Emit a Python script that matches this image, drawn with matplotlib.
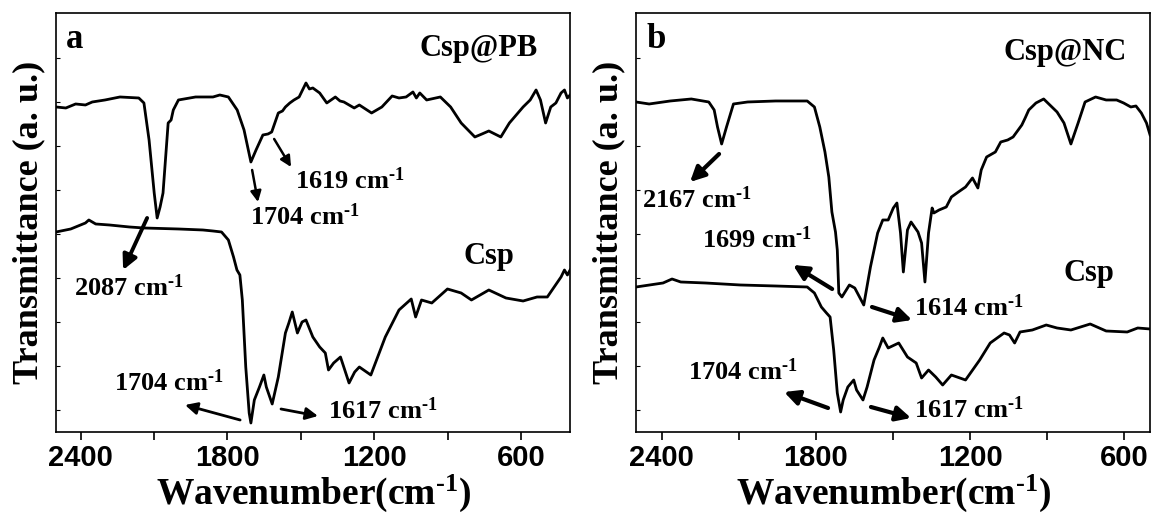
import numpy as np
import matplotlib
matplotlib.use('Agg')
import matplotlib.pyplot as plt
from matplotlib.ticker import MultipleLocator, FixedLocator

plt.rcParams['font.family'] = ['Liberation Serif', 'DejaVu Serif']
plt.rcParams['font.weight'] = 'bold'
plt.rcParams['mathtext.fontset'] = 'custom'
plt.rcParams['mathtext.rm'] = 'Liberation Serif:bold'
plt.rcParams['mathtext.bf'] = 'Liberation Serif:bold'
plt.rcParams['mathtext.default'] = 'bf'

# Panel a: Csp@PB (upper) and Csp (lower)
wn_pb = [2500, 2460, 2420, 2380, 2352, 2300, 2239, 2162, 2141, 2120, 2099, 2087, 2075, 2063, 2042,
         2030, 2021, 2000, 1930, 1859, 1831, 1796, 1760, 1732, 1704, 1683, 1655, 1634, 1619, 1592,
         1575, 1563, 1545, 1528, 1507, 1479, 1465, 1451, 1423, 1394, 1359, 1340, 1324, 1282, 1261,
         1211, 1169, 1127, 1099, 1070, 1042, 1028, 1014, 986, 930, 888, 845, 789, 760, 732, 683,
         648, 592, 563, 539, 521, 500, 479, 458, 437, 423, 411, 400]
t_pb = [325, 324, 328, 327, 330, 332, 335, 334, 329, 292, 239, 214, 225, 239, 309,
        312, 322, 332, 335, 335, 337, 335, 322, 302, 270, 282, 297, 298, 300, 319,
        321, 325, 329, 332, 335, 349, 343, 344, 339, 329, 335, 331, 330, 324, 327,
        319, 325, 336, 334, 335, 340, 334, 339, 332, 335, 325, 309, 295, 298, 301, 295,
        309, 325, 332, 342, 332, 309, 325, 329, 339, 342, 334, 337]

wn_csp_a = [2500, 2440, 2380, 2366, 2338, 2282, 2200, 2141, 2000, 1900, 1859, 1824, 1796, 1775,
            1761, 1749, 1739, 1725, 1711, 1704, 1690, 1669, 1651, 1641, 1617, 1592, 1563, 1549,
            1535, 1514, 1495, 1479, 1451, 1423, 1400, 1387, 1366, 1338, 1303, 1280, 1261, 1214,
            1155, 1099, 1049, 1031, 1007, 965, 901, 845, 803, 732, 662, 592, 535, 493, 465, 437,
            423, 411, 400]
t_csp_a = [200, 203, 209, 212, 208, 207, 205, 204, 203, 202, 201, 200, 192, 175,
           162, 157, 132, 65, 19, 9, 32, 45, 57, 45, 28, 55, 99, 109,
           120, 99, 110, 112, 95, 85, 79, 62, 69, 75, 49, 60, 65, 57,
           95, 122, 133, 115, 132, 129, 143, 139, 132, 142, 134, 131, 135, 135, 145, 155,
           162, 157, 162]

# Panel b: Csp@NC (upper) and Csp (lower)
wn_nc = [2500, 2449, 2367, 2285, 2217, 2196, 2183, 2167, 2148, 2121, 2066, 1957, 1834, 1806, 1785,
         1765, 1750, 1738, 1724, 1717, 1711, 1699, 1670, 1649, 1614, 1588, 1560, 1540, 1519, 1499,
         1485, 1471, 1460, 1444, 1430, 1403, 1389, 1376, 1362, 1348, 1341, 1321, 1293, 1273, 1246,
         1218, 1191, 1170, 1157, 1136, 1102, 1081, 1054, 1033, 999, 986, 972, 944, 914, 890, 862,
         835, 808, 780, 753, 712, 671, 630, 603, 575, 555, 534, 514, 500]
t_nc = [330, 328, 331, 333, 330, 322, 305, 288, 305, 328, 330, 331, 331, 325, 305,
        280, 255, 220, 200, 182, 139, 135, 147, 144, 127, 165, 199, 212, 212, 224,
        229, 199, 160, 202, 210, 200, 189, 150, 199, 224, 219, 222, 225, 235, 240,
        245, 254, 244, 262, 275, 280, 290, 292, 295, 307, 314, 322, 329, 333, 327, 320,
        309, 288, 309, 330, 335, 332, 332, 329, 325, 326, 319, 309, 297]

wn_csp_b = [2500, 2395, 2360, 2326, 2230, 2094, 1957, 1834, 1806, 1779, 1759, 1745, 1731, 1717,
            1704, 1694, 1676, 1663, 1653, 1642, 1617, 1601, 1574, 1553, 1540, 1519, 1478, 1444,
            1410, 1389, 1362, 1334, 1307, 1273, 1218, 1163, 1122, 1068, 1047, 1027, 1006, 958,
            904, 862, 808, 733, 671, 589, 548, 500]
t_csp_b = [145, 149, 153, 150, 149, 147, 146, 145, 139, 125, 119, 115, 82, 39,
           20, 32, 45, 49, 52, 42, 32, 45, 72, 85, 94, 84, 89, 75,
           69, 54, 62, 55, 47, 57, 52, 72, 89, 99, 97, 89, 100, 102,
           107, 104, 102, 108, 101, 100, 104, 103]

major_ticks = [2400, 1800, 1200, 600]
ytick_pos = [22, 66, 110, 154, 198, 242, 286, 330, 374]

fig = plt.figure(figsize=(11.51, 5.13), dpi=100)
ax1 = fig.add_axes([0.0487, 0.1579, 0.4466, 0.8168])
ax2 = fig.add_axes([0.5526, 0.1579, 0.4466, 0.8168])

lab_font = dict(fontsize=19, fontweight='bold')
SUP = '$^{\\text{-1}}$'


def style_axes(ax, xlim):
    ax.set_xlim(xlim)
    ax.set_ylim(0, 419)
    ax.xaxis.set_major_locator(FixedLocator(major_ticks))
    ax.xaxis.set_minor_locator(MultipleLocator(300))
    ax.yaxis.set_major_locator(FixedLocator(ytick_pos))
    ax.set_yticklabels([])
    ax.tick_params(axis='x', which='both', direction='out', length=6, width=1.2, labelsize=21, pad=3)
    ax.tick_params(axis='y', which='both', direction='in', length=3, width=0.8)
    for lab in ax.get_xticklabels():
        lab.set_family(['Liberation Sans Narrow', 'Liberation Sans', 'DejaVu Sans'])
        lab.set_fontweight('bold')
    for sp in ax.spines.values():
        sp.set_linewidth(1.2)
    ax.set_xlabel('Wavenumber(cm' + SUP + ')', fontsize=27, fontweight='bold', labelpad=0)
    ax.set_ylabel('Transmittance (a. u.)', fontsize=26, fontweight='bold', labelpad=4)


def arrow(ax, tail, head, lw, ms):
    ax.annotate('', xy=head, xytext=tail,
                arrowprops=dict(arrowstyle='-|>', color='k', lw=lw, mutation_scale=ms,
                                shrinkA=0, shrinkB=0))


# ---- panel a
ax1.plot(wn_pb, t_pb, color='k', lw=2)
ax1.plot(wn_csp_a, t_csp_a, color='k', lw=2)
style_axes(ax1, (2500, 400))
ax1.text(0.02, 0.975, 'a', transform=ax1.transAxes, fontsize=25, fontweight='bold', va='top')
ax1.text(531, 383, 'Csp@PB', fontsize=22, fontweight='bold', ha='right', va='center')
ax1.text(731, 175, 'Csp', fontsize=22, fontweight='bold', ha='center', va='center')

arrow(ax1, (2128, 214), (2226, 162), 2.8, 22)
ax1.text(2202, 144, '2087 cm' + SUP, ha='center', va='center', **lab_font)
arrow(ax1, (1699, 262), (1675, 230), 1.8, 16)
ax1.text(1707, 215, '1704 cm' + SUP, ha='left', va='center', **lab_font)
arrow(ax1, (1609, 293), (1540, 265), 1.8, 16)
ax1.text(1524, 251, '1619 cm' + SUP, ha='left', va='center', **lab_font)
arrow(ax1, (1748, 12), (1973, 27), 2.0, 18)
ax1.text(2038, 49, '1704 cm' + SUP, ha='center', va='center', **lab_font)
arrow(ax1, (1581, 23), (1430, 16), 2.0, 18)
ax1.text(1389, 21, '1617 cm' + SUP, ha='left', va='center', **lab_font)

# ---- panel b
ax2.plot(wn_nc, t_nc, color='k', lw=2)
ax2.plot(wn_csp_b, t_csp_b, color='k', lw=2)
style_axes(ax2, (2500, 500))
ax2.text(0.02, 0.975, 'b', transform=ax2.transAxes, fontsize=25, fontweight='bold', va='top')
ax2.text(590, 379, 'Csp@NC', fontsize=22, fontweight='bold', ha='right', va='center')
ax2.text(737, 158, 'Csp', fontsize=22, fontweight='bold', ha='center', va='center')

arrow(ax2, (2177, 278), (2290, 250), 3.0, 22)
ax2.text(2477, 232, '2167 cm' + SUP, ha='left', va='center', **lab_font)
arrow(ax2, (1737, 143), (1889, 167), 3.0, 22)
ax2.text(2029, 192, '1699 cm' + SUP, ha='center', va='center', **lab_font)
arrow(ax2, (1582, 125), (1426, 112), 3.0, 22)
ax2.text(1418, 124, '1614 cm' + SUP, ha='left', va='center', **lab_font)
arrow(ax2, (1753, 24), (1924, 40), 3.0, 22)
ax2.text(2084, 60, '1704 cm' + SUP, ha='center', va='center', **lab_font)
arrow(ax2, (1586, 25), (1430, 14), 3.0, 22)
ax2.text(1418, 22, '1617 cm' + SUP, ha='left', va='center', **lab_font)

fig.savefig('out.png', dpi=100)
